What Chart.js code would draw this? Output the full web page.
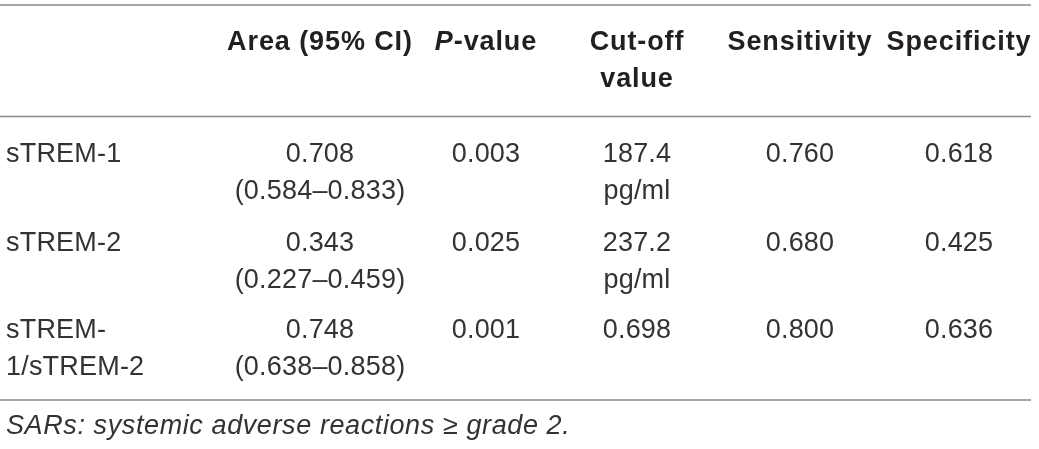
<!DOCTYPE html>
<html>
<head>
<meta charset="utf-8">
<script src="https://cdn.jsdelivr.net/npm/chart.js@4.4.1/dist/chart.umd.min.js"></script>
<style>
  html, body { margin: 0; background: #fff; }
  #wrap { width: 1039px; height: 449px; }
</style>
</head>
<body>
<div id="wrap"><canvas id="rocTable"></canvas></div>
<script>
  // ======= data =======
  const columns = ['', 'Area (95% CI)', '*P*-value', 'Cut-off value', 'Sensitivity', 'Specificity'];
  const markers = ['sTREM-1', 'sTREM-2', 'sTREM-1/sTREM-2'];
  const auc = [0.708, 0.343, 0.748];
  const ciLow = [0.584, 0.227, 0.638];
  const ciHigh = [0.833, 0.459, 0.858];
  const pValues = [0.003, 0.025, 0.001];
  const cutoffs = [187.4, 237.2, 0.698];
  const cutoffUnits = ['pg/ml', 'pg/ml', ''];
  const sensitivity = [0.760, 0.680, 0.800];
  const specificity = [0.618, 0.425, 0.636];
  const footnote = '*SARs: systemic adverse reactions ≥ grade 2.*';

  // ======= layout (pixels) =======
  const layout = {
    colX: [6, 320, 486, 637, 800, 959],      // col 0 left edge, others centre
    colW: [190, 210, 125, 115, 160, 160],    // wrap width per column
    headTop: 43,
    rowTop: [155, 244, 331],
    lineH: 37,
    rules: [5, 116.5, 400],
    ruleEnd: 1031,
    footX: 6,
    footY: 426
  };
  const FAMILY = '"Liberation Sans", Arial, sans-serif';
  const SIZE = 27;
  const spacingFor = (bold, italic) => bold ? '0.9px' : italic ? '0.6px' : '0.2px';

  const fmt = v => v.toFixed(3);
  const bodyRows = markers.map((m, i) => [
    m,
    `${fmt(auc[i])} (${fmt(ciLow[i])}–${fmt(ciHigh[i])})`,
    fmt(pValues[i]),
    `${cutoffs[i]} ${cutoffUnits[i]}`.trim(),
    fmt(sensitivity[i]),
    fmt(specificity[i])
  ]);

  // ======= text helpers =======
  const measureCtx = document.createElement('canvas').getContext('2d');
  function setFont(ctx, bold, italic) {
    ctx.font = `${italic ? 'italic ' : ''}${bold ? 'bold ' : ''}${SIZE}px ${FAMILY}`;
    ctx.letterSpacing = spacingFor(bold, italic);
  }
  // "*x*" marks italic runs
  function runs(text) {
    return text.split('*').map((t, i) => ({ t, italic: i % 2 === 1 })).filter(r => r.t);
  }
  function runWidth(ctx, text, bold) {
    let w = 0;
    runs(text).forEach(r => {
      setFont(ctx, bold, r.italic);
      w += ctx.measureText(r.t).width;
    });
    return w;
  }
  function wrap(text, width, bold) {
    const parts = text.split(/(?<=\s)|(?<=-)(?=\d)/);
    const lines = [];
    let cur = '';
    parts.forEach(p => {
      const next = cur + p;
      if (cur && runWidth(measureCtx, next.trim(), bold) > width) {
        lines.push(cur.trim());
        cur = p;
      } else {
        cur = next;
      }
    });
    if (cur.trim()) lines.push(cur.trim());
    return lines;
  }

  // ======= cells =======
  const cells = [];
  columns.forEach((txt, c) => {
    if (!txt) return;
    wrap(txt, layout.colW[c], true).forEach((line, k) => {
      cells.push({ x: layout.colX[c], y: layout.headTop + k * layout.lineH, text: line, bold: true, align: c === 0 ? 'left' : 'center' });
    });
  });
  bodyRows.forEach((row, r) => {
    row.forEach((txt, c) => {
      wrap(txt, layout.colW[c], false).forEach((line, k) => {
        cells.push({ x: layout.colX[c], y: layout.rowTop[r] + k * layout.lineH, text: line, bold: false, align: c === 0 ? 'left' : 'center' });
      });
    });
  });
  cells.push({ x: layout.footX, y: layout.footY, text: footnote, bold: false, align: 'left' });

  const ruleSets = layout.rules.map(y => ({
    type: 'line',
    data: [{ x: 0, y }, { x: layout.ruleEnd, y }],
    borderColor: '#8a8a8a',
    borderWidth: 1.5,
    pointRadius: 0,
    clip: false
  }));

  const cellText = {
    id: 'cellText',
    afterDatasetsDraw(chart) {
      const ctx = chart.ctx;
      const meta = chart.getDatasetMeta(0);
      ctx.save();
      ctx.textBaseline = 'middle';
      ctx.textAlign = 'left';
      meta.data.forEach((pt, i) => {
        const cell = chart.data.datasets[0].data[i];
        const w = runWidth(ctx, cell.text, cell.bold);
        let x = cell.align === 'center' ? pt.x - w / 2 : pt.x;
        ctx.fillStyle = cell.bold ? '#231f20' : '#333333';
        runs(cell.text).forEach(r => {
          setFont(ctx, cell.bold, r.italic);
          ctx.fillText(r.t, x, pt.y);
          x += ctx.measureText(r.t).width;
        });
      });
      ctx.restore();
    }
  };

  new Chart(document.getElementById('rocTable'), {
    type: 'scatter',
    data: {
      datasets: [
        { label: 'cells', data: cells, pointRadius: 0, clip: false },
        ...ruleSets
      ]
    },
    options: {
      responsive: true,
      maintainAspectRatio: false,
      animation: false,
      layout: { padding: 0 },
      plugins: { legend: { display: false }, tooltip: { enabled: false } },
      scales: {
        x: { type: 'linear', min: 0, max: 1039, display: false },
        y: { type: 'linear', min: 0, max: 449, reverse: true, display: false }
      }
    },
    plugins: [cellText]
  });
</script>
</body>
</html>
